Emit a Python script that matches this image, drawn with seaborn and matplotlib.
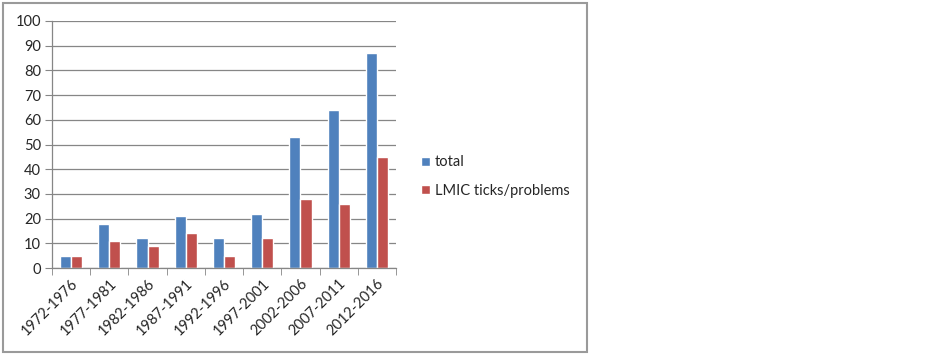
import pandas as pd
import numpy as np
import seaborn as sns
import matplotlib.pyplot as plt
from matplotlib.patches import Rectangle

periods = ['1972-1976', '1977-1981', '1982-1986', '1987-1991', '1992-1996',
           '1997-2001', '2002-2006', '2007-2011', '2012-2016']
total = [5, 18, 12, 21, 12, 22, 53, 64, 87]
lmic = [5, 11, 9, 14, 5, 12, 28, 26, 45]
series_names = ['total', 'LMIC ticks/problems']

df = pd.DataFrame({
    'period': periods * 2,
    'value': total + lmic,
    'series': [series_names[0]] * len(periods) + [series_names[1]] * len(periods),
})

sns.set_style('white')
plt.rcParams['font.family'] = ['Lato', 'DejaVu Sans']

fig = plt.figure(figsize=(9.32, 3.55), dpi=100)
ax = fig.add_axes([52 / 932, 87 / 355, 344 / 932, 247 / 355])

sns.barplot(data=df, x='period', y='value', hue='series', order=periods,
            palette=['#4F81BD', '#C0504D'], width=0.58, saturation=1,
            ax=ax, legend=True)

ax.set_ylim(0, 100)
ax.set_xlim(-0.5, len(periods) - 0.5)
ax.set_yticks(range(0, 101, 10))
ax.yaxis.grid(True, color='#868686', linewidth=0.9)
ax.set_axisbelow(True)
ax.set_xlabel('')
ax.set_ylabel('')

for side in ['top', 'right']:
    ax.spines[side].set_visible(False)
for side in ['left', 'bottom']:
    ax.spines[side].set_color('#868686')
    ax.spines[side].set_linewidth(0.9)

# tick marks between categories like Excel
ax.set_xticks(np.arange(len(periods)))
ax.set_xticklabels(periods, rotation=45, ha='right', rotation_mode='anchor', fontsize=10.5)
ax.set_xticks(np.arange(-0.5, len(periods)), minor=True)
ax.tick_params(axis='x', which='major', length=0, pad=6)
ax.tick_params(axis='x', which='minor', length=5, color='#868686', bottom=True)
ax.tick_params(axis='y', length=5, color='#868686', left=True, labelsize=10.5, pad=3)

leg = ax.legend(loc='center left', bbox_to_anchor=(1.035, 0.37), frameon=False,
                fontsize=10.5, handlelength=0.6, handleheight=0.6,
                handletextpad=0.35, labelspacing=1.0)

fig.patches.append(Rectangle((3 / 932, 3 / 355), 584 / 932, 349 / 355,
                             transform=fig.transFigure, fill=False,
                             edgecolor='#9a9a9a', linewidth=1.5))

fig.savefig('out.png', dpi=100, facecolor='white')
